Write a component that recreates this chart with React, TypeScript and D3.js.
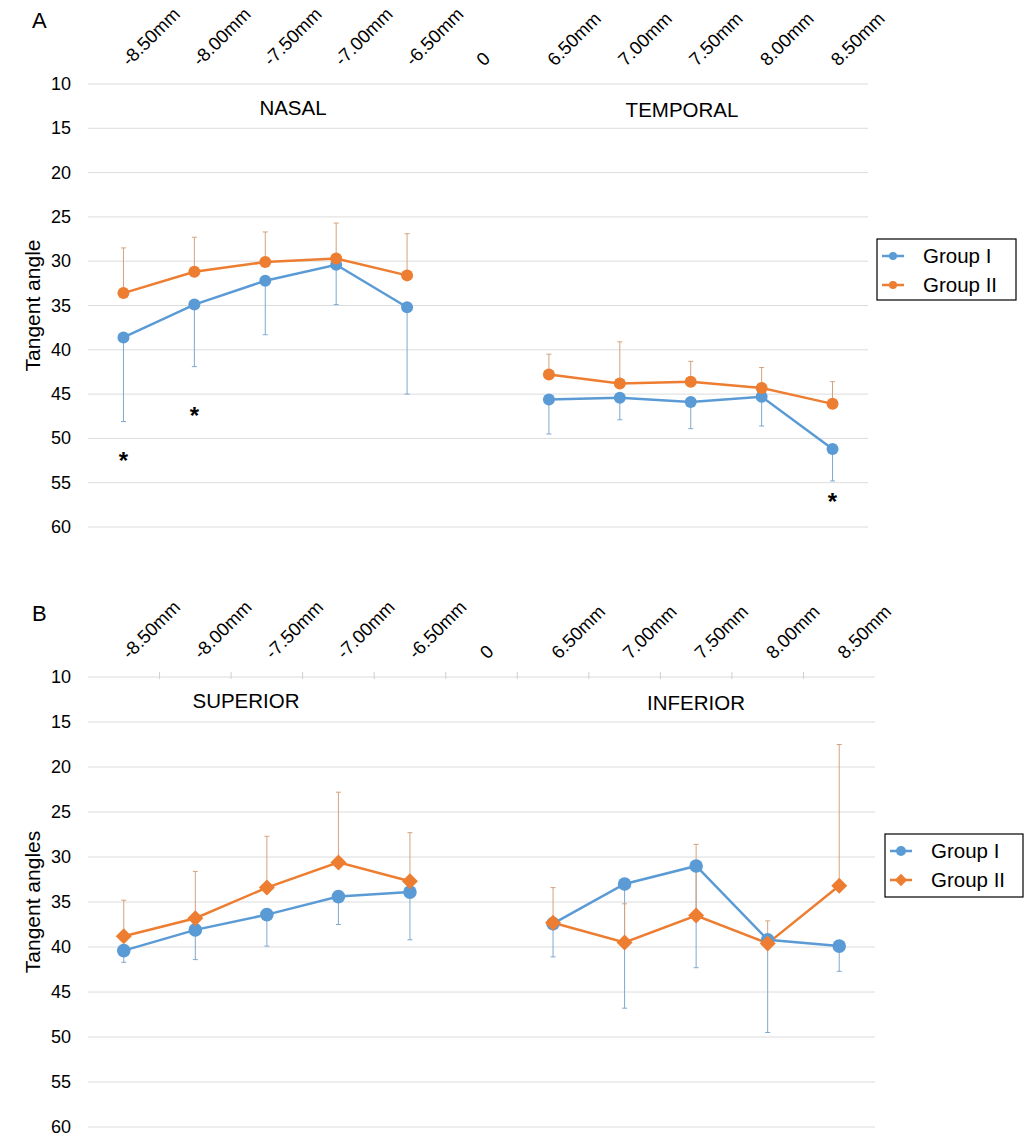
import React from 'react';
import * as d3 from 'd3';

// categories along the top axis (value axis reversed, so the axis sits on top)
const categories = ['-8.50mm', '-8.00mm', '-7.50mm', '-7.00mm', '-6.50mm', '0', '6.50mm', '7.00mm', '7.50mm', '8.00mm', '8.50mm'];
const leftCats = categories.slice(0, 5);
const rightCats = categories.slice(6);
const yTicks = [10, 15, 20, 25, 30, 35, 40, 45, 50, 55, 60];
const groups = ['Group I', 'Group II'];

// Panel A (nasal / temporal)
const nasalG1 = [38.6, 34.9, 32.2, 30.4, 35.2];
const nasalG1Err = [9.5, 7.0, 6.1, 4.5, 9.8];
const nasalG2 = [33.6, 31.2, 30.1, 29.7, 31.6];
const nasalG2Err = [5.1, 3.9, 3.4, 4.0, 4.7];
const temporalG1 = [45.6, 45.4, 45.9, 45.3, 51.2];
const temporalG1Err = [3.9, 2.5, 3.0, 3.3, 3.6];
const temporalG2 = [42.8, 43.8, 43.6, 44.3, 46.1];
const temporalG2Err = [2.3, 4.7, 2.3, 2.3, 2.5];
const starCatsA = ['-8.50mm', '-8.00mm', '8.50mm'];
const starValsA = [52.2, 47.1, 56.8];

// Panel B (superior / inferior)
const superiorG1 = [40.4, 38.1, 36.4, 34.4, 33.9];
const superiorG1Err = [1.3, 3.3, 3.5, 3.1, 5.3];
const superiorG2 = [38.8, 36.8, 33.4, 30.6, 32.7];
const superiorG2Err = [4.0, 5.2, 5.7, 7.8, 5.4];
const inferiorG1 = [37.4, 33.0, 31.0, 39.2, 39.9];
const inferiorG1Err = [3.7, 13.8, 11.3, 10.3, 2.8];
const inferiorG2 = [37.3, 39.5, 36.5, 39.6, 33.2];
const inferiorG2Err = [3.9, 4.3, 7.9, 2.5, 15.7];

const BLUE = '#5b9bd5';
const ORANGE = '#ed7d31';
const FONT = '"Liberation Sans", Arial, Helvetica, sans-serif';

type Seg = { cats: string[]; g1: number[]; g1Err: number[]; g2: number[]; g2Err: number[] };

interface PanelProps {
  letter: string;
  top: number;
  bottom: number;
  right: number;
  yTitle: string;
  leftTitle: string;
  rightTitle: string;
  leftTitleX: number;
  rightTitleX: number;
  segs: Seg[];
  diamond: boolean;
  showTicks: boolean;
  stars?: { cats: string[]; vals: number[] };
  legend: { x: number; y: number; w: number; h: number };
}

const Panel: React.FC<PanelProps> = (p) => {
  const left = 88;
  const x = d3.scaleBand<string>().domain(categories).range([left, p.right]);
  const cx = (c: string) => (x(c) as number) + x.bandwidth() / 2;
  const y = d3.scaleLinear().domain([10, 60]).range([p.top, p.bottom]);
  const line = d3.line<[string, number]>().x(d => cx(d[0])).y(d => y(d[1]));
  const r = p.diamond ? 6.8 : 6;
  const diamondPath = (s: number) => `M0,${-s}L${s},0L0,${s}L${-s},0Z`;

  const marker = (color: string, isG2: boolean, px: number, py: number, k: string, size = r) =>
    isG2 && p.diamond ? (
      <path key={k} d={diamondPath(size + 1.2)} transform={`translate(${px},${py})`} fill={color} />
    ) : (
      <circle key={k} cx={px} cy={py} r={size} fill={color} />
    );

  return (
    <g fontFamily={FONT}>
      <text x={32} y={p.top - 56} fontSize={22}>{p.letter}</text>
      {yTicks.map(t => (
        <g key={t}>
          <line x1={left} x2={p.right} y1={y(t)} y2={y(t)} stroke="#dcdcdc" strokeWidth={1} />
          <text x={71} y={y(t) + 6} textAnchor="end" fontSize={18}>{t}</text>
        </g>
      ))}
      {p.showTicks && categories.slice(1).map(c => (
        <line key={c} x1={x(c)} x2={x(c)} y1={p.top - 5} y2={p.top + 2} stroke="#d0d0d0" />
      ))}
      {categories.map(c => {
        const tx = cx(c) + 6;
        const ty = p.top - 17;
        return (
          <text key={c} x={tx} y={ty} fontSize={18.5} transform={`rotate(-45,${tx},${ty})`}>{c}</text>
        );
      })}
      <text x={p.leftTitleX} y={p.top + 31} textAnchor="middle" fontSize={20.5}>{p.leftTitle}</text>
      <text x={p.rightTitleX} y={p.top + 33} textAnchor="middle" fontSize={20.5}>{p.rightTitle}</text>
      <text transform={`translate(40,${(p.top + p.bottom) / 2}) rotate(-90)`} textAnchor="middle" fontSize={21}>{p.yTitle}</text>

      {p.segs.map((s, si) => (
        <g key={si}>
          {/* error bars: Group I toward larger values, Group II toward smaller */}
          {s.cats.map((c, i) => (
            <g key={'e' + i}>
              <line x1={cx(c)} x2={cx(c)} y1={y(s.g1[i])} y2={y(s.g1[i] + s.g1Err[i])} stroke="#7fa9cf" strokeWidth={1} />
              <line x1={cx(c) - 2.5} x2={cx(c) + 2.5} y1={y(s.g1[i] + s.g1Err[i])} y2={y(s.g1[i] + s.g1Err[i])} stroke="#7fa9cf" strokeWidth={1} />
              <line x1={cx(c)} x2={cx(c)} y1={y(s.g2[i])} y2={y(s.g2[i] - s.g2Err[i])} stroke="#d4a37e" strokeWidth={1} />
              <line x1={cx(c) - 2.5} x2={cx(c) + 2.5} y1={y(s.g2[i] - s.g2Err[i])} y2={y(s.g2[i] - s.g2Err[i])} stroke="#d4a37e" strokeWidth={1} />
            </g>
          ))}
          <path d={line(s.cats.map((c, i) => [c, s.g1[i]] as [string, number])) || ''} fill="none" stroke={BLUE} strokeWidth={2.5} />
          <path d={line(s.cats.map((c, i) => [c, s.g2[i]] as [string, number])) || ''} fill="none" stroke={ORANGE} strokeWidth={2.5} />
          {s.cats.map((c, i) => marker(BLUE, false, cx(c), y(s.g1[i]), 'b' + i))}
          {s.cats.map((c, i) => marker(ORANGE, true, cx(c), y(s.g2[i]), 'o' + i))}
        </g>
      ))}

      {p.stars && p.stars.cats.map((c, i) => (
        <text key={'s' + i} x={cx(c)} y={y(p.stars!.vals[i]) + 11} textAnchor="middle" fontSize={24} fontWeight="bold">*</text>
      ))}

      <g>
        <rect x={p.legend.x} y={p.legend.y} width={p.legend.w} height={p.legend.h} fill="white" stroke="#000" strokeWidth={1.2} />
        {groups.map((g, i) => {
          const ly = p.legend.y + 17 + i * 29;
          const lx = p.legend.x + 5;
          const color = i === 0 ? BLUE : ORANGE;
          return (
            <g key={g}>
              <line x1={lx} x2={lx + 22} y1={ly} y2={ly} stroke={color} strokeWidth={2.5} />
              {marker(color, i === 1, lx + 11, ly, 'l' + i, p.diamond ? 5 : 4)}
              <text x={p.legend.x + 46} y={ly + 7} fontSize={20.5}>{g}</text>
            </g>
          );
        })}
      </g>
    </g>
  );
};

const App: React.FC = () => (
  <svg width={1024} height={1140} style={{ position: 'absolute', left: 0, top: 0, background: '#fff' }}>
    <Panel
      letter="A"
      top={84}
      bottom={527}
      right={868}
      yTitle="Tangent angle"
      leftTitle="NASAL"
      rightTitle="TEMPORAL"
      leftTitleX={293}
      rightTitleX={682}
      segs={[
        { cats: leftCats, g1: nasalG1, g1Err: nasalG1Err, g2: nasalG2, g2Err: nasalG2Err },
        { cats: rightCats, g1: temporalG1, g1Err: temporalG1Err, g2: temporalG2, g2Err: temporalG2Err },
      ]}
      diamond={false}
      showTicks={false}
      stars={{ cats: starCatsA, vals: starValsA }}
      legend={{ x: 877, y: 239, w: 139, h: 61 }}
    />
    <Panel
      letter="B"
      top={677}
      bottom={1127}
      right={875}
      yTitle="Tangent angles"
      leftTitle="SUPERIOR"
      rightTitle="INFERIOR"
      leftTitleX={246}
      rightTitleX={696}
      segs={[
        { cats: leftCats, g1: superiorG1, g1Err: superiorG1Err, g2: superiorG2, g2Err: superiorG2Err },
        { cats: rightCats, g1: inferiorG1, g1Err: inferiorG1Err, g2: inferiorG2, g2Err: inferiorG2Err },
      ]}
      diamond={true}
      showTicks={true}
      legend={{ x: 885, y: 834, w: 138, h: 63 }}
    />
  </svg>
);

export default App;
